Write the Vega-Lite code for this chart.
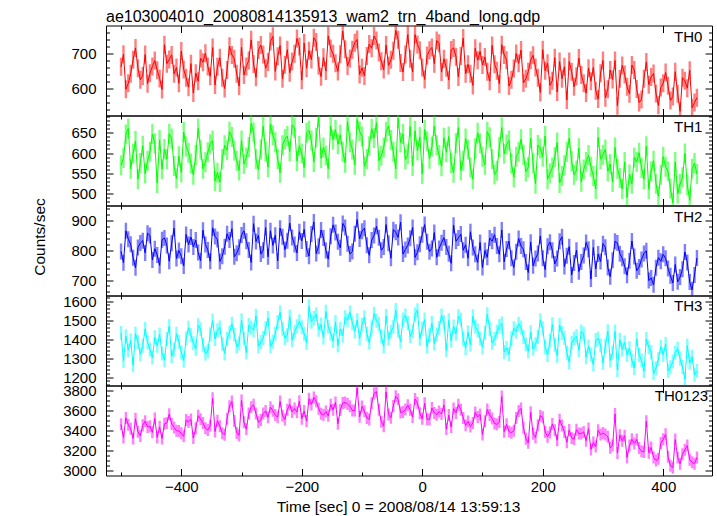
{
"$schema": "https://vega.github.io/schema/vega-lite/v6.json",
"padding": {"left": 31, "top": 8.5, "right": 5, "bottom": 2},
"bounds": "flush",
"spacing": 0,
"config": {
 "view": {"stroke": "#000", "strokeWidth": 1},
 "axis": {"domain": false, "grid": false, "tickColor": "#000", "tickWidth": 1, "labelColor": "#000", "labelFont": "Liberation Sans", "labelFontSize": 15, "labelOverlap": false, "format": "d", "titleFont": "Liberation Sans", "titleFontSize": 15.5, "titleFontWeight": "normal", "titleColor": "#000", "zindex": 1},
 "title": {"font": "Liberation Sans", "fontSize": 16, "fontWeight": "normal", "color": "#000"},
 "text": {"font": "Liberation Sans"}
},
"data": {"values": [
{"t":-500,"a":662,"b":570,"c":796,"d":1432,"e":3460},
{"t":-496,"a":698,"b":588,"c":758,"d":1285,"e":3329},
{"t":-492,"a":598,"b":646,"c":865,"d":1416,"e":3525},
{"t":-488,"a":615,"b":661,"c":837,"d":1342,"e":3455},
{"t":-484,"a":642,"b":561,"c":820,"d":1393,"e":3416},
{"t":-480,"a":682,"b":599,"c":775,"d":1263,"e":3319},
{"t":-476,"a":716,"b":630,"c":741,"d":1429,"e":3516},
{"t":-472,"a":658,"b":535,"c":809,"d":1385,"e":3387},
{"t":-468,"a":625,"b":575,"c":824,"d":1320,"e":3344},
{"t":-464,"a":636,"b":618,"c":832,"d":1366,"e":3452},
{"t":-460,"a":697,"b":549,"c":791,"d":1454,"e":3491},
{"t":-456,"a":614,"b":581,"c":857,"d":1382,"e":3434},
{"t":-452,"a":644,"b":603,"c":849,"d":1345,"e":3441},
{"t":-448,"a":663,"b":647,"c":767,"d":1303,"e":3380},
{"t":-444,"a":680,"b":624,"c":805,"d":1410,"e":3519},
{"t":-440,"a":652,"b":526,"c":784,"d":1366,"e":3328},
{"t":-436,"a":629,"b":632,"c":749,"d":1425,"e":3435},
{"t":-432,"a":597,"b":560,"c":835,"d":1325,"e":3317},
{"t":-428,"a":725,"b":610,"c":841,"d":1289,"e":3465},
{"t":-424,"a":671,"b":585,"c":816,"d":1401,"e":3473},
{"t":-420,"a":683,"b":648,"c":763,"d":1468,"e":3562},
{"t":-416,"a":696,"b":636,"c":823,"d":1309,"e":3464},
{"t":-412,"a":642,"b":568,"c":874,"d":1345,"e":3429},
{"t":-408,"a":660,"b":537,"c":772,"d":1428,"e":3397},
{"t":-404,"a":615,"b":592,"c":799,"d":1387,"e":3393},
{"t":-400,"a":707,"b":552,"c":780,"d":1331,"e":3370},
{"t":-396,"a":654,"b":652,"c":747,"d":1287,"e":3340},
{"t":-392,"a":631,"b":616,"c":853,"d":1403,"e":3503},
{"t":-388,"a":604,"b":601,"c":819,"d":1460,"e":3484},
{"t":-384,"a":671,"b":574,"c":844,"d":1421,"e":3510},
{"t":-380,"a":587,"b":546,"c":811,"d":1379,"e":3323},
{"t":-376,"a":644,"b":595,"c":834,"d":1349,"e":3422},
{"t":-372,"a":621,"b":661,"c":792,"d":1473,"e":3547},
{"t":-368,"a":686,"b":609,"c":765,"d":1452,"e":3512},
{"t":-364,"a":675,"b":561,"c":867,"d":1370,"e":3473},
{"t":-360,"a":701,"b":577,"c":819,"d":1324,"e":3421},
{"t":-356,"a":663,"b":602,"c":801,"d":1337,"e":3403},
{"t":-352,"a":635,"b":622,"c":763,"d":1426,"e":3446},
{"t":-348,"a":717,"b":631,"c":875,"d":1498,"e":3721},
{"t":-344,"a":610,"b":531,"c":846,"d":1401,"e":3388},
{"t":-340,"a":662,"b":551,"c":836,"d":1447,"e":3496},
{"t":-336,"a":688,"b":528,"c":762,"d":1462,"e":3440},
{"t":-332,"a":631,"b":585,"c":780,"d":1376,"e":3372},
{"t":-328,"a":600,"b":619,"c":812,"d":1325,"e":3356},
{"t":-324,"a":653,"b":607,"c":855,"d":1401,"e":3516},
{"t":-320,"a":721,"b":653,"c":834,"d":1435,"e":3643},
{"t":-316,"a":696,"b":640,"c":872,"d":1481,"e":3689},
{"t":-312,"a":685,"b":606,"c":778,"d":1424,"e":3493},
{"t":-308,"a":642,"b":581,"c":790,"d":1361,"e":3374},
{"t":-304,"a":607,"b":557,"c":810,"d":1377,"e":3351},
{"t":-300,"a":718,"b":631,"c":851,"d":1500,"e":3700},
{"t":-296,"a":639,"b":573,"c":865,"d":1405,"e":3482},
{"t":-292,"a":663,"b":589,"c":830,"d":1330,"e":3412},
{"t":-288,"a":680,"b":615,"c":801,"d":1474,"e":3570},
{"t":-284,"a":739,"b":673,"c":759,"d":1461,"e":3632},
{"t":-280,"a":670,"b":651,"c":889,"d":1447,"e":3657},
{"t":-276,"a":632,"b":585,"c":829,"d":1523,"e":3569},
{"t":-272,"a":710,"b":559,"c":850,"d":1362,"e":3481},
{"t":-268,"a":724,"b":609,"c":787,"d":1385,"e":3505},
{"t":-264,"a":697,"b":666,"c":800,"d":1406,"e":3569},
{"t":-260,"a":658,"b":603,"c":876,"d":1458,"e":3595},
{"t":-256,"a":676,"b":565,"c":778,"d":1512,"e":3531},
{"t":-252,"a":734,"b":672,"c":865,"d":1362,"e":3633},
{"t":-248,"a":749,"b":644,"c":816,"d":1387,"e":3596},
{"t":-244,"a":649,"b":627,"c":850,"d":1428,"e":3554},
{"t":-240,"a":692,"b":585,"c":764,"d":1491,"e":3532},
{"t":-236,"a":723,"b":551,"c":874,"d":1542,"e":3690},
{"t":-232,"a":628,"b":619,"c":845,"d":1455,"e":3547},
{"t":-228,"a":668,"b":634,"c":802,"d":1405,"e":3509},
{"t":-224,"a":711,"b":642,"c":832,"d":1421,"e":3606},
{"t":-220,"a":645,"b":604,"c":891,"d":1519,"e":3659},
{"t":-216,"a":677,"b":670,"c":843,"d":1394,"e":3584},
{"t":-212,"a":699,"b":662,"c":819,"d":1439,"e":3619},
{"t":-208,"a":743,"b":580,"c":791,"d":1468,"e":3582},
{"t":-204,"a":720,"b":618,"c":862,"d":1493,"e":3693},
{"t":-200,"a":624,"b":599,"c":831,"d":1463,"e":3517},
{"t":-196,"a":730,"b":564,"c":870,"d":1429,"e":3593},
{"t":-192,"a":658,"b":650,"c":804,"d":1381,"e":3493},
{"t":-188,"a":708,"b":656,"c":780,"d":1573,"e":3717},
{"t":-184,"a":683,"b":631,"c":854,"d":1492,"e":3660},
{"t":-180,"a":745,"b":578,"c":895,"d":1512,"e":3730},
{"t":-176,"a":733,"b":638,"c":789,"d":1531,"e":3691},
{"t":-172,"a":665,"b":689,"c":813,"d":1450,"e":3617},
{"t":-168,"a":634,"b":587,"c":868,"d":1477,"e":3566},
{"t":-164,"a":689,"b":614,"c":841,"d":1409,"e":3553},
{"t":-160,"a":650,"b":594,"c":799,"d":1545,"e":3588},
{"t":-156,"a":750,"b":561,"c":770,"d":1465,"e":3546},
{"t":-152,"a":714,"b":667,"c":847,"d":1430,"e":3658},
{"t":-148,"a":699,"b":633,"c":885,"d":1390,"e":3607},
{"t":-144,"a":672,"b":658,"c":859,"d":1491,"e":3680},
{"t":-140,"a":649,"b":622,"c":828,"d":1367,"e":3466},
{"t":-136,"a":698,"b":645,"c":808,"d":1453,"e":3604},
{"t":-132,"a":764,"b":603,"c":890,"d":1418,"e":3675},
{"t":-128,"a":712,"b":576,"c":876,"d":1516,"e":3680},
{"t":-124,"a":664,"b":678,"c":822,"d":1500,"e":3664},
{"t":-120,"a":686,"b":627,"c":787,"d":1541,"e":3641},
{"t":-116,"a":711,"b":609,"c":796,"d":1484,"e":3600},
{"t":-112,"a":731,"b":571,"c":855,"d":1441,"e":3598},
{"t":-108,"a":740,"b":683,"c":903,"d":1500,"e":3826},
{"t":-104,"a":640,"b":654,"c":838,"d":1404,"e":3536},
{"t":-100,"a":659,"b":641,"c":864,"d":1476,"e":3640},
{"t":-96,"a":636,"b":567,"c":874,"d":1515,"e":3592},
{"t":-92,"a":693,"b":585,"c":817,"d":1429,"e":3524},
{"t":-88,"a":727,"b":617,"c":783,"d":1382,"e":3509},
{"t":-84,"a":715,"b":660,"c":834,"d":1462,"e":3671},
{"t":-80,"a":750,"b":637,"c":849,"d":1534,"e":3770},
{"t":-76,"a":737,"b":675,"c":880,"d":1497,"e":3789},
{"t":-72,"a":703,"b":581,"c":842,"d":1480,"e":3606},
{"t":-68,"a":678,"b":593,"c":800,"d":1415,"e":3486},
{"t":-64,"a":654,"b":613,"c":811,"d":1363,"e":3441},
{"t":-60,"a":724,"b":653,"c":886,"d":1522,"e":3785},
{"t":-56,"a":666,"b":667,"c":823,"d":1403,"e":3559},
{"t":-52,"a":682,"b":632,"c":773,"d":1439,"e":3526},
{"t":-48,"a":708,"b":603,"c":869,"d":1465,"e":3645},
{"t":-44,"a":766,"b":561,"c":860,"d":1554,"e":3741},
{"t":-40,"a":739,"b":686,"c":843,"d":1444,"e":3712},
{"t":-36,"a":673,"b":626,"c":894,"d":1387,"e":3580},
{"t":-32,"a":647,"b":647,"c":787,"d":1504,"e":3585},
{"t":-28,"a":697,"b":584,"c":802,"d":1525,"e":3608},
{"t":-24,"a":754,"b":597,"c":816,"d":1485,"e":3652},
{"t":-20,"a":685,"b":666,"c":840,"d":1415,"e":3606},
{"t":-16,"a":647,"b":568,"c":876,"d":1442,"e":3533},
{"t":-12,"a":754,"b":655,"c":776,"d":1530,"e":3715},
{"t":-8,"a":726,"b":606,"c":793,"d":1552,"e":3677},
{"t":-4,"a":709,"b":640,"c":820,"d":1402,"e":3571},
{"t":0,"a":660,"b":548,"c":852,"d":1456,"e":3516},
{"t":4,"a":626,"b":658,"c":886,"d":1503,"e":3673},
{"t":8,"a":694,"b":629,"c":828,"d":1360,"e":3511},
{"t":12,"a":709,"b":586,"c":795,"d":1420,"e":3510},
{"t":16,"a":717,"b":616,"c":806,"d":1485,"e":3624},
{"t":20,"a":671,"b":667,"c":859,"d":1377,"e":3574},
{"t":24,"a":737,"b":619,"c":776,"d":1425,"e":3557},
{"t":28,"a":729,"b":595,"c":806,"d":1459,"e":3589},
{"t":32,"a":647,"b":567,"c":825,"d":1525,"e":3564},
{"t":36,"a":685,"b":638,"c":842,"d":1490,"e":3655},
{"t":40,"a":659,"b":602,"c":811,"d":1341,"e":3413},
{"t":44,"a":624,"b":641,"c":788,"d":1500,"e":3553},
{"t":48,"a":710,"b":575,"c":756,"d":1392,"e":3433},
{"t":52,"a":716,"b":551,"c":884,"d":1467,"e":3618},
{"t":56,"a":691,"b":625,"c":830,"d":1429,"e":3575},
{"t":60,"a":633,"b":663,"c":841,"d":1521,"e":3658},
{"t":64,"a":693,"b":557,"c":854,"d":1503,"e":3607},
{"t":68,"a":744,"b":581,"c":800,"d":1400,"e":3525},
{"t":72,"a":642,"b":636,"c":818,"d":1354,"e":3450},
{"t":76,"a":669,"b":609,"c":773,"d":1437,"e":3488},
{"t":80,"a":642,"b":564,"c":862,"d":1371,"e":3439},
{"t":84,"a":609,"b":535,"c":809,"d":1521,"e":3474},
{"t":88,"a":715,"b":612,"c":786,"d":1467,"e":3580},
{"t":92,"a":681,"b":650,"c":759,"d":1445,"e":3535},
{"t":96,"a":706,"b":624,"c":826,"d":1404,"e":3560},
{"t":100,"a":667,"b":591,"c":742,"d":1358,"e":3358},
{"t":104,"a":690,"b":571,"c":799,"d":1432,"e":3492},
{"t":108,"a":648,"b":653,"c":776,"d":1531,"e":3608},
{"t":112,"a":621,"b":639,"c":841,"d":1453,"e":3554},
{"t":116,"a":723,"b":585,"c":830,"d":1381,"e":3519},
{"t":120,"a":669,"b":547,"c":852,"d":1401,"e":3469},
{"t":124,"a":651,"b":556,"c":814,"d":1439,"e":3460},
{"t":128,"a":613,"b":615,"c":786,"d":1469,"e":3483},
{"t":132,"a":725,"b":663,"c":868,"d":1483,"e":3739},
{"t":136,"a":696,"b":598,"c":761,"d":1332,"e":3387},
{"t":140,"a":681,"b":621,"c":804,"d":1354,"e":3460},
{"t":144,"a":607,"b":631,"c":830,"d":1320,"e":3388},
{"t":148,"a":625,"b":574,"c":773,"d":1405,"e":3377},
{"t":152,"a":657,"b":540,"c":742,"d":1457,"e":3396},
{"t":156,"a":700,"b":591,"c":795,"d":1439,"e":3525},
{"t":160,"a":672,"b":603,"c":839,"d":1481,"e":3595},
{"t":164,"a":710,"b":634,"c":814,"d":1462,"e":3620},
{"t":168,"a":616,"b":596,"c":803,"d":1411,"e":3426},
{"t":172,"a":628,"b":554,"c":760,"d":1373,"e":3315},
{"t":176,"a":648,"b":565,"c":725,"d":1337,"e":3275},
{"t":180,"a":681,"b":637,"c":827,"d":1436,"e":3581},
{"t":184,"a":695,"b":574,"c":748,"d":1349,"e":3366},
{"t":188,"a":660,"b":524,"c":772,"d":1373,"e":3329},
{"t":192,"a":631,"b":620,"c":789,"d":1412,"e":3452},
{"t":196,"a":589,"b":611,"c":848,"d":1499,"e":3547},
{"t":200,"a":711,"b":591,"c":773,"d":1456,"e":3531},
{"t":204,"a":651,"b":642,"c":735,"d":1356,"e":3384},
{"t":208,"a":672,"b":535,"c":813,"d":1317,"e":3337},
{"t":212,"a":609,"b":550,"c":827,"d":1392,"e":3378},
{"t":216,"a":622,"b":564,"c":800,"d":1478,"e":3464},
{"t":220,"a":688,"b":590,"c":754,"d":1370,"e":3402},
{"t":224,"a":590,"b":626,"c":772,"d":1313,"e":3301},
{"t":228,"a":677,"b":526,"c":830,"d":1474,"e":3507},
{"t":232,"a":628,"b":543,"c":845,"d":1432,"e":3448},
{"t":236,"a":662,"b":570,"c":745,"d":1407,"e":3384},
{"t":240,"a":567,"b":603,"c":781,"d":1329,"e":3280},
{"t":244,"a":677,"b":637,"c":812,"d":1278,"e":3404},
{"t":248,"a":648,"b":579,"c":717,"d":1380,"e":3324},
{"t":252,"a":605,"b":546,"c":757,"d":1403,"e":3311},
{"t":256,"a":635,"b":557,"c":800,"d":1415,"e":3407},
{"t":260,"a":687,"b":612,"c":728,"d":1341,"e":3368},
{"t":264,"a":639,"b":529,"c":760,"d":1440,"e":3368},
{"t":268,"a":615,"b":559,"c":782,"d":1428,"e":3384},
{"t":272,"a":587,"b":578,"c":826,"d":1305,"e":3296},
{"t":276,"a":658,"b":595,"c":803,"d":1362,"e":3418},
{"t":280,"a":621,"b":566,"c":703,"d":1318,"e":3208},
{"t":284,"a":660,"b":543,"c":809,"d":1266,"e":3278},
{"t":288,"a":594,"b":511,"c":737,"d":1395,"e":3237},
{"t":292,"a":570,"b":639,"c":787,"d":1404,"e":3400},
{"t":296,"a":644,"b":585,"c":762,"d":1367,"e":3358},
{"t":300,"a":680,"b":596,"c":822,"d":1275,"e":3373},
{"t":304,"a":574,"b":609,"c":810,"d":1365,"e":3358},
{"t":308,"a":598,"b":555,"c":742,"d":1442,"e":3337},
{"t":312,"a":653,"b":573,"c":711,"d":1288,"e":3225},
{"t":316,"a":626,"b":528,"c":766,"d":1329,"e":3249},
{"t":320,"a":680,"b":614,"c":830,"d":1440,"e":3564},
{"t":324,"a":551,"b":561,"c":824,"d":1237,"e":3173},
{"t":328,"a":628,"b":538,"c":788,"d":1397,"e":3351},
{"t":332,"a":666,"b":511,"c":773,"d":1346,"e":3296},
{"t":336,"a":640,"b":578,"c":746,"d":1383,"e":3347},
{"t":340,"a":605,"b":490,"c":716,"d":1317,"e":3128},
{"t":344,"a":585,"b":547,"c":765,"d":1352,"e":3249},
{"t":348,"a":667,"b":524,"c":831,"d":1288,"e":3310},
{"t":352,"a":653,"b":589,"c":779,"d":1248,"e":3269},
{"t":356,"a":599,"b":578,"c":731,"d":1401,"e":3309},
{"t":360,"a":560,"b":601,"c":744,"d":1317,"e":3222},
{"t":364,"a":569,"b":563,"c":769,"d":1289,"e":3190},
{"t":368,"a":628,"b":535,"c":789,"d":1232,"e":3184},
{"t":372,"a":676,"b":617,"c":798,"d":1401,"e":3492},
{"t":376,"a":611,"b":510,"c":698,"d":1357,"e":3176},
{"t":380,"a":633,"b":555,"c":707,"d":1332,"e":3227},
{"t":384,"a":643,"b":581,"c":684,"d":1220,"e":3128},
{"t":388,"a":586,"b":524,"c":741,"d":1247,"e":3098},
{"t":392,"a":552,"b":493,"c":775,"d":1295,"e":3115},
{"t":396,"a":603,"b":546,"c":763,"d":1360,"e":3272},
{"t":400,"a":615,"b":591,"c":786,"d":1318,"e":3310},
{"t":404,"a":646,"b":566,"c":773,"d":1375,"e":3360},
{"t":408,"a":608,"b":555,"c":739,"d":1234,"e":3136},
{"t":412,"a":566,"b":512,"c":714,"d":1252,"e":3044},
{"t":416,"a":577,"b":477,"c":690,"d":1282,"e":3026},
{"t":420,"a":648,"b":578,"c":752,"d":1329,"e":3307},
{"t":424,"a":585,"b":499,"c":694,"d":1350,"e":3128},
{"t":428,"a":535,"b":523,"c":710,"d":1297,"e":3065},
{"t":432,"a":631,"b":540,"c":736,"d":1253,"e":3160},
{"t":436,"a":622,"b":599,"c":794,"d":1190,"e":3205},
{"t":440,"a":601,"b":521,"c":759,"d":1366,"e":3247},
{"t":444,"a":652,"b":483,"c":693,"d":1276,"e":3104},
{"t":448,"a":545,"b":561,"c":667,"d":1307,"e":3080},
{"t":452,"a":560,"b":575,"c":717,"d":1212,"e":3064},
{"t":456,"a":574,"b":548,"c":774,"d":1232,"e":3128}
]},
"vconcat": [
{
 "width": 606, "height": 90,
 "title": {"text": "ae103004010_20080814135913_wam2_trn_4band_long.qdp", "anchor": "start", "frame": "group", "baseline": "alphabetic", "offset": -13},
 "layer": [
  {"mark": {"type": "tick", "orient": "vertical", "size": 18, "thickness": 2.4, "color": "#ff0000", "opacity": 0.5, "clip": true},
   "encoding": {
    "x": {"field": "t", "type": "quantitative", "scale": {"domain": [-525, 481], "nice": false, "zero": false}, "axis": {"orient": "bottom", "values": [-400, -200, 0, 200, 400], "tickSize": -7, "labels": false, "title": null}},
    "y": {"field": "a", "type": "quantitative", "scale": {"domain": [523, 780], "nice": false, "zero": false}, "axis": {"orient": "left", "values": [600, 700], "tickSize": -7, "labelPadding": 17, "title": null}}}},
  {"mark": {"type": "line", "color": "#ff0000", "strokeWidth": 1, "clip": true},
   "encoding": {
    "x": {"field": "t", "type": "quantitative", "axis": {"orient": "top", "values": [-400, -200, 0, 200, 400], "tickSize": -7, "labels": false, "title": null}},
    "y": {"field": "a", "type": "quantitative", "axis": {"orient": "right", "values": [600, 700], "tickSize": -7, "labels": false, "title": null}}}},
  {"mark": {"type": "line", "opacity": 0},
   "encoding": {
    "x": {"field": "t", "type": "quantitative", "axis": {"orient": "bottom", "values": [-500, -300, -100, 100, 300], "tickSize": -3.5, "labels": false, "title": null}},
    "y": {"field": "a", "type": "quantitative", "axis": {"orient": "left", "values": [540, 560, 580, 620, 640, 660, 680, 720, 740, 760], "tickSize": -3.5, "labels": false, "title": null}}}},
  {"mark": {"type": "line", "opacity": 0},
   "encoding": {
    "x": {"field": "t", "type": "quantitative", "axis": {"orient": "top", "values": [-500, -300, -100, 100, 300], "tickSize": -3.5, "labels": false, "title": null}},
    "y": {"field": "a", "type": "quantitative", "axis": {"orient": "right", "values": [540, 560, 580, 620, 640, 660, 680, 720, 740, 760], "tickSize": -3.5, "labels": false, "title": null}}}},
  {"data": {"values": [{"label": "TH0"}]},
   "mark": {"type": "text", "align": "left", "baseline": "alphabetic", "fontSize": 15, "color": "#000"},
   "encoding": {"x": {"datum": 418, "type": "quantitative", "axis": null}, "y": {"datum": 734, "type": "quantitative", "axis": null}, "text": {"field": "label"}}}
 ],
 "resolve": {"axis": {"x": "independent", "y": "independent"}}
},
{
 "width": 606, "height": 90,
 "layer": [
  {"mark": {"type": "tick", "orient": "vertical", "size": 20, "thickness": 2.4, "color": "#00ff00", "opacity": 0.5, "clip": true},
   "encoding": {
    "x": {"field": "t", "type": "quantitative", "scale": {"domain": [-525, 481], "nice": false, "zero": false}, "axis": {"orient": "bottom", "values": [-400, -200, 0, 200, 400], "tickSize": -7, "labels": false, "title": null}},
    "y": {"field": "b", "type": "quantitative", "scale": {"domain": [470, 693], "nice": false, "zero": false}, "axis": {"orient": "left", "values": [500, 550, 600, 650], "tickSize": -7, "labelPadding": 17, "title": null}}}},
  {"mark": {"type": "line", "color": "#00ff00", "strokeWidth": 1, "clip": true},
   "encoding": {
    "x": {"field": "t", "type": "quantitative", "axis": {"orient": "top", "values": [-400, -200, 0, 200, 400], "tickSize": -7, "labels": false, "title": null}},
    "y": {"field": "b", "type": "quantitative", "axis": {"orient": "right", "values": [500, 550, 600, 650], "tickSize": -7, "labels": false, "title": null}}}},
  {"mark": {"type": "line", "opacity": 0},
   "encoding": {
    "x": {"field": "t", "type": "quantitative", "axis": {"orient": "bottom", "values": [-500, -300, -100, 100, 300], "tickSize": -3.5, "labels": false, "title": null}},
    "y": {"field": "b", "type": "quantitative", "axis": {"orient": "left", "values": [480, 490, 510, 520, 530, 540, 560, 570, 580, 590, 610, 620, 630, 640, 660, 670, 680, 690], "tickSize": -3.5, "labels": false, "title": null}}}},
  {"mark": {"type": "line", "opacity": 0},
   "encoding": {
    "x": {"field": "t", "type": "quantitative", "axis": {"orient": "top", "values": [-500, -300, -100, 100, 300], "tickSize": -3.5, "labels": false, "title": null}},
    "y": {"field": "b", "type": "quantitative", "axis": {"orient": "right", "values": [480, 490, 510, 520, 530, 540, 560, 570, 580, 590, 610, 620, 630, 640, 660, 670, 680, 690], "tickSize": -3.5, "labels": false, "title": null}}}},
  {"data": {"values": [{"label": "TH1"}]},
   "mark": {"type": "text", "align": "left", "baseline": "alphabetic", "fontSize": 15, "color": "#000"},
   "encoding": {"x": {"datum": 418, "type": "quantitative", "axis": null}, "y": {"datum": 653, "type": "quantitative", "axis": null}, "text": {"field": "label"}}}
 ],
 "resolve": {"axis": {"x": "independent", "y": "independent"}}
},
{
 "width": 606, "height": 90,
 "layer": [
  {"mark": {"type": "tick", "orient": "vertical", "size": 16, "thickness": 2.4, "color": "#0000ff", "opacity": 0.5, "clip": true},
   "encoding": {
    "x": {"field": "t", "type": "quantitative", "scale": {"domain": [-525, 481], "nice": false, "zero": false}, "axis": {"orient": "bottom", "values": [-400, -200, 0, 200, 400], "tickSize": -7, "labels": false, "title": null}},
    "y": {"field": "c", "type": "quantitative", "scale": {"domain": [648, 950], "nice": false, "zero": false}, "axis": {"orient": "left", "values": [700, 800, 900], "tickSize": -7, "labelPadding": 17, "title": "Counts/sec", "titleX": -62, "titleY": 31, "titleBaseline": "alphabetic", "titleAlign": "center"}}}},
  {"mark": {"type": "line", "color": "#0000ff", "strokeWidth": 1, "clip": true},
   "encoding": {
    "x": {"field": "t", "type": "quantitative", "axis": {"orient": "top", "values": [-400, -200, 0, 200, 400], "tickSize": -7, "labels": false, "title": null}},
    "y": {"field": "c", "type": "quantitative", "axis": {"orient": "right", "values": [700, 800, 900], "tickSize": -7, "labels": false, "title": null}}}},
  {"mark": {"type": "line", "opacity": 0},
   "encoding": {
    "x": {"field": "t", "type": "quantitative", "axis": {"orient": "bottom", "values": [-500, -300, -100, 100, 300], "tickSize": -3.5, "labels": false, "title": null}},
    "y": {"field": "c", "type": "quantitative", "axis": {"orient": "left", "values": [660, 680, 720, 740, 760, 780, 820, 840, 860, 880, 920, 940], "tickSize": -3.5, "labels": false, "title": null}}}},
  {"mark": {"type": "line", "opacity": 0},
   "encoding": {
    "x": {"field": "t", "type": "quantitative", "axis": {"orient": "top", "values": [-500, -300, -100, 100, 300], "tickSize": -3.5, "labels": false, "title": null}},
    "y": {"field": "c", "type": "quantitative", "axis": {"orient": "right", "values": [660, 680, 720, 740, 760, 780, 820, 840, 860, 880, 920, 940], "tickSize": -3.5, "labels": false, "title": null}}}},
  {"data": {"values": [{"label": "TH2"}]},
   "mark": {"type": "text", "align": "left", "baseline": "alphabetic", "fontSize": 15, "color": "#000"},
   "encoding": {"x": {"datum": 418, "type": "quantitative", "axis": null}, "y": {"datum": 896, "type": "quantitative", "axis": null}, "text": {"field": "label"}}}
 ],
 "resolve": {"axis": {"x": "independent", "y": "independent"}}
},
{
 "width": 606, "height": 90,
 "layer": [
  {"mark": {"type": "tick", "orient": "vertical", "size": 14, "thickness": 2.4, "color": "#00ffff", "opacity": 0.5, "clip": true},
   "encoding": {
    "x": {"field": "t", "type": "quantitative", "scale": {"domain": [-525, 481], "nice": false, "zero": false}, "axis": {"orient": "bottom", "values": [-400, -200, 0, 200, 400], "tickSize": -7, "labels": false, "title": null}},
    "y": {"field": "d", "type": "quantitative", "scale": {"domain": [1156, 1630], "nice": false, "zero": false}, "axis": {"orient": "left", "values": [1200, 1300, 1400, 1500, 1600], "tickSize": -7, "labelPadding": 17, "title": null}}}},
  {"mark": {"type": "line", "color": "#00ffff", "strokeWidth": 1, "clip": true},
   "encoding": {
    "x": {"field": "t", "type": "quantitative", "axis": {"orient": "top", "values": [-400, -200, 0, 200, 400], "tickSize": -7, "labels": false, "title": null}},
    "y": {"field": "d", "type": "quantitative", "axis": {"orient": "right", "values": [1200, 1300, 1400, 1500, 1600], "tickSize": -7, "labels": false, "title": null}}}},
  {"mark": {"type": "line", "opacity": 0},
   "encoding": {
    "x": {"field": "t", "type": "quantitative", "axis": {"orient": "bottom", "values": [-500, -300, -100, 100, 300], "tickSize": -3.5, "labels": false, "title": null}},
    "y": {"field": "d", "type": "quantitative", "axis": {"orient": "left", "values": [1160, 1180, 1220, 1240, 1260, 1280, 1320, 1340, 1360, 1380, 1420, 1440, 1460, 1480, 1520, 1540, 1560, 1580, 1620], "tickSize": -3.5, "labels": false, "title": null}}}},
  {"mark": {"type": "line", "opacity": 0},
   "encoding": {
    "x": {"field": "t", "type": "quantitative", "axis": {"orient": "top", "values": [-500, -300, -100, 100, 300], "tickSize": -3.5, "labels": false, "title": null}},
    "y": {"field": "d", "type": "quantitative", "axis": {"orient": "right", "values": [1160, 1180, 1220, 1240, 1260, 1280, 1320, 1340, 1360, 1380, 1420, 1440, 1460, 1480, 1520, 1540, 1560, 1580, 1620], "tickSize": -3.5, "labels": false, "title": null}}}},
  {"data": {"values": [{"label": "TH3"}]},
   "mark": {"type": "text", "align": "left", "baseline": "alphabetic", "fontSize": 15, "color": "#000"},
   "encoding": {"x": {"datum": 418, "type": "quantitative", "axis": null}, "y": {"datum": 1546, "type": "quantitative", "axis": null}, "text": {"field": "label"}}}
 ],
 "resolve": {"axis": {"x": "independent", "y": "independent"}}
},
{
 "width": 606, "height": 90,
 "layer": [
  {"mark": {"type": "tick", "orient": "vertical", "size": 12, "thickness": 2.4, "color": "#ff00ff", "opacity": 0.5, "clip": true},
   "encoding": {
    "x": {"field": "t", "type": "quantitative", "scale": {"domain": [-525, 481], "nice": false, "zero": false}, "axis": {"orient": "bottom", "values": [-400, -200, 0, 200, 400], "tickSize": -7, "labels": true, "labelBaseline": "alphabetic", "labelPadding": 23.3, "title": "Time [sec] 0 = 2008/08/14 13:59:13", "titleX": 292, "titleY": 35.5, "titleBaseline": "alphabetic", "titleAlign": "center"}},
    "y": {"field": "e", "type": "quantitative", "scale": {"domain": [2947, 3850], "nice": false, "zero": false}, "axis": {"orient": "left", "values": [3000, 3200, 3400, 3600, 3800], "tickSize": -7, "labelPadding": 17, "title": null}}}},
  {"mark": {"type": "line", "color": "#ff00ff", "strokeWidth": 1, "clip": true},
   "encoding": {
    "x": {"field": "t", "type": "quantitative", "axis": {"orient": "top", "values": [-400, -200, 0, 200, 400], "tickSize": -7, "labels": false, "title": null}},
    "y": {"field": "e", "type": "quantitative", "axis": {"orient": "right", "values": [3000, 3200, 3400, 3600, 3800], "tickSize": -7, "labels": false, "title": null}}}},
  {"mark": {"type": "line", "opacity": 0},
   "encoding": {
    "x": {"field": "t", "type": "quantitative", "axis": {"orient": "bottom", "values": [-500, -300, -100, 100, 300], "tickSize": -3.5, "labels": false, "title": null}},
    "y": {"field": "e", "type": "quantitative", "axis": {"orient": "left", "values": [3050, 3100, 3150, 3250, 3300, 3350, 3450, 3500, 3550, 3650, 3700, 3750], "tickSize": -3.5, "labels": false, "title": null}}}},
  {"mark": {"type": "line", "opacity": 0},
   "encoding": {
    "x": {"field": "t", "type": "quantitative", "axis": {"orient": "top", "values": [-500, -300, -100, 100, 300], "tickSize": -3.5, "labels": false, "title": null}},
    "y": {"field": "e", "type": "quantitative", "axis": {"orient": "right", "values": [3050, 3100, 3150, 3250, 3300, 3350, 3450, 3500, 3550, 3650, 3700, 3750], "tickSize": -3.5, "labels": false, "title": null}}}},
  {"data": {"values": [{"label": "TH0123"}]},
   "mark": {"type": "text", "align": "left", "baseline": "alphabetic", "fontSize": 15, "color": "#000"},
   "encoding": {"x": {"datum": 386, "type": "quantitative", "axis": null}, "y": {"datum": 3690, "type": "quantitative", "axis": null}, "text": {"field": "label"}}}
 ],
 "resolve": {"axis": {"x": "independent", "y": "independent"}}
}
]
}
